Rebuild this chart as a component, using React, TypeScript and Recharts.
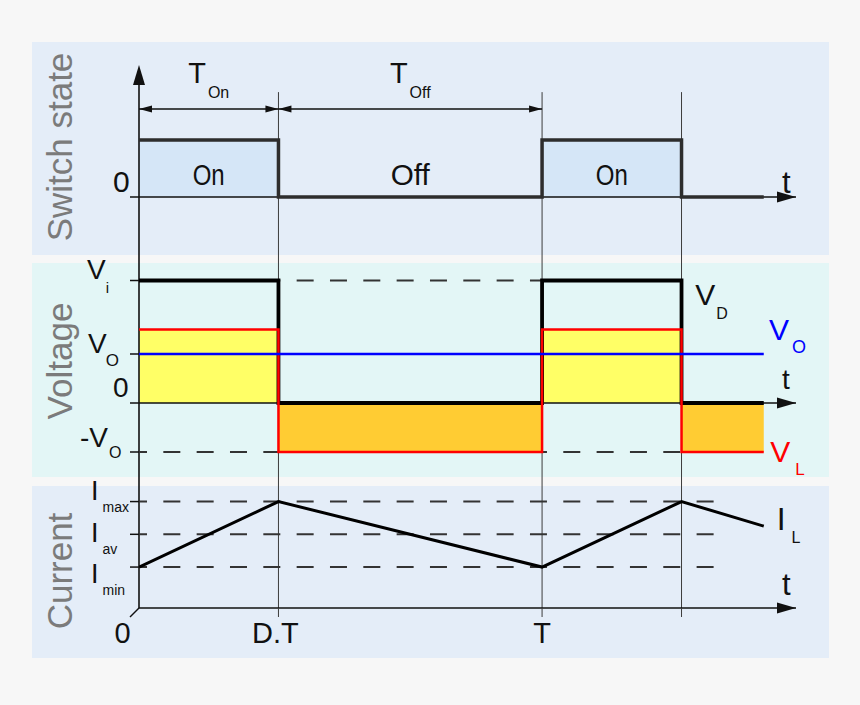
import React from 'react';
import { ComposedChart, Line, Area, XAxis, YAxis, ReferenceLine, ReferenceDot } from 'recharts';

// time, in units of the switching period T
const tEdges = [0, 0.346, 1, 1.346, 1.55];
const tEnd = 1.63; // tip of the t arrows
const phaseNames = ['On', 'Off', 'On'];
const switchState = [1, 0, 1, 0, 0];

// voltages (Vi = 5, Vo = 2)
const vDiode = [5, 0, 5, 0, 0];
const vInductor = [3, -2, 3, -2, -2];
const vOut = [2, 2, 2, 2, 2];

// inductor current
const iInductor = [1.25, 3.25, 1.25, 3.25, 2.5];

const swTicks = [0];
const voltTicks = [5, 2, 0, -2];
const voltTickText = ['V', 'V', '0', '-V'];
const voltTickSub = ['i', 'O', '', 'O'];
const curTicks = [3.25, 2.25, 1.25];
const curTickSub = ['max', 'av', 'min'];
const timeTicks = [0, 0.346, 1, 1.346];
const timeTickText = ['0', 'D.T', 'T', ''];

const table = tEdges.map((t, i) => ({
  t,
  sw: switchState[i],
  vD: vDiode[i],
  vL: vInductor[i],
  vLpos: Math.max(vInductor[i], 0),
  vLneg: Math.min(vInductor[i], 0),
  vO: vOut[i],
  iL: iInductor[i],
}));

// layout
const W = 860;
const PLOT_L = 139;
const PLOT_R = 796;
const YW = 60;
const margin = { top: 0, right: W - PLOT_R, bottom: 0, left: PLOT_L - YW };
const PX_PER_T = (PLOT_R - PLOT_L) / tEnd;

const FONT = "'Liberation Sans', Arial, Helvetica, sans-serif";
const INK = '#111';
const GUIDE = '#3c3c3c';
const DASH = '#333';
const BG = '#f7f7f7';
const PANEL_BLUE = '#e4edf8';
const PANEL_CYAN = '#e3f6f6';
const ON_FILL = '#d5e6f7';

// band = page top / bottom of a chart's plot, zero = page y of value 0, unit = px per value
const band = (top: number, bottom: number, zero: number, unit: number): [number, number] => [
  -(bottom - zero) / unit,
  (zero - top) / unit,
];
const S = { top: 42, bottom: 250 };
const V = { top: 250, bottom: 479 };
const I = { top: 479, bottom: 658, plotBottom: 608 };
const domS = band(S.top, S.bottom, 197, 57);
const domV = band(V.top, V.bottom, 403, 24.5);
const domI = band(I.top, I.plotBottom, 608, 32.75);

// dash pattern starts at the tick, 9px left of the plot
const dashOffset = (t: number) => (t * PX_PER_T + 9) % 33.33;
const dashProps = (t: number) => ({
  stroke: DASH,
  strokeWidth: 2,
  strokeDasharray: '17 16.33',
  strokeDashoffset: dashOffset(t),
  ifOverflow: 'visible' as const,
});
const curDashEnd = 1.427;

const tickLineStyle = { stroke: INK, strokeWidth: 1.5 };

type Lbl = {
  main: string;
  sub?: string;
  color?: string;
  size: number;
  subSize?: number;
  subDx?: number;
  subDy?: number;
  anchor?: 'start' | 'middle' | 'end';
  squeeze?: number;
};
const textShape = (s: Lbl) => (p: any) => (
  <text
    x={p.cx}
    y={p.cy}
    fill={s.color ?? INK}
    fontSize={s.size}
    fontFamily={FONT}
    textAnchor={s.anchor ?? 'start'}
    {...(s.squeeze ? { textLength: s.squeeze, lengthAdjust: 'spacingAndGlyphs' } : {})}
  >
    {s.main}
    {s.sub ? (
      <tspan dx={s.subDx ?? 1} dy={s.subDy ?? 13} fontSize={s.subSize ?? 16}>
        {s.sub}
      </tspan>
    ) : null}
  </text>
);

const arrowRight = (p: any) => <path d={`M${p.cx},${p.cy} l-19,-5.5 v11 z`} fill={INK} />;
const arrowUp = (p: any) => <path d={`M${p.cx},${p.cy} l-6,20 h12 z`} fill={INK} />;
const dimLeft = (p: any) => <path d={`M${p.cx},${p.cy} l13,-3.5 v7 z`} fill={INK} />;
const dimRight = (p: any) => <path d={`M${p.cx},${p.cy} l-13,-3.5 v7 z`} fill={INK} />;

const SwTick = (p: any) => (
  <text x={p.x - 17} y={p.y - 5} fontSize={30} fontFamily={FONT} fill={INK}>
    0
  </text>
);

const voltTickDx = [-43, -42, -17, -50];
const voltTickDy = [-2, -1, -6, -5];
const voltSubDx = [0, -1, 0, 1];
const voltSubDy = [14, 13, 0, 11];
const voltSubSize = [15, 17, 15, 16];
const VoltTick = (p: any) => {
  const i = voltTicks.indexOf(p.payload.value);
  if (i < 0) return null;
  return (
    <text x={p.x + voltTickDx[i]} y={p.y + voltTickDy[i]} fontSize={28} fontFamily={FONT} fill={INK}>
      {voltTickText[i]}
      {voltTickSub[i] ? (
        <tspan dx={voltSubDx[i]} dy={voltSubDy[i]} fontSize={voltSubSize[i]}>
          {voltTickSub[i]}
        </tspan>
      ) : null}
    </text>
  );
};

const curTickDy = [-1.5, 7.5, 16];
const CurTick = (p: any) => {
  const i = curTicks.indexOf(p.payload.value);
  if (i < 0) return null;
  return (
    <text x={p.x - 39} y={p.y + curTickDy[i]} fontSize={27} fontFamily={FONT} fill={INK}>
      I
      <tspan dx={4} dy={12} fontSize={14}>
        {curTickSub[i]}
      </tspan>
    </text>
  );
};

const TimeTick = (p: any) => {
  const i = timeTicks.indexOf(p.payload.value);
  if (i < 0) return null;
  const { x, y } = p;
  const labelX = i === 0 ? x - 16.5 : i === 1 ? x - 3 : x;
  return (
    <g>
      {i === 0 ? (
        <line x1={x} y1={y} x2={x - 9} y2={y + 9} stroke={INK} strokeWidth={1.5} />
      ) : (
        <line x1={x} y1={y} x2={x} y2={y + 9} stroke={GUIDE} strokeWidth={1} />
      )}
      <text x={labelX} y={y + 35} textAnchor="middle" fontSize={29} fontFamily={FONT} fill={INK}>
        {timeTickText[i]}
      </text>
    </g>
  );
};

const abs = (left: number, top: number, width: number, height: number, bg: string): React.CSSProperties => ({
  position: 'absolute',
  left,
  top,
  width,
  height,
  background: bg,
});

const titleStyle = (cx: number, cy: number): React.CSSProperties => ({
  position: 'absolute',
  left: cx,
  top: cy,
  transform: 'translate(-50%, -50%) rotate(-90deg)',
  fontFamily: FONT,
  fontSize: 35,
  lineHeight: 1,
  color: '#7b7b7b',
  whiteSpace: 'nowrap',
});

const guides = tEdges.slice(1, 4);
const mid = (a: number, b: number) => (a + b) / 2;
const phaseWidth: Record<string, number> = { On: 32, Off: 39 };

export default function App() {
  return (
    <div style={{ position: 'absolute', left: 0, top: 0, width: 860, height: 705, background: BG, overflow: 'hidden' }}>
      <style>{'.recharts-wrapper, .recharts-surface { overflow: visible !important; }'}</style>
      <div style={abs(32, 42, 797, 213, PANEL_BLUE)} />
      <div style={abs(32, 263, 797, 214, PANEL_CYAN)} />
      <div style={abs(32, 486, 797, 172, PANEL_BLUE)} />
      <div style={titleStyle(58.5, 147)}>Switch state</div>
      <div style={titleStyle(58.5, 361)}>Voltage</div>
      <div style={titleStyle(58.5, 571)}>Current</div>

      {/* switch state */}
      <div style={{ position: 'absolute', left: 0, top: S.top }}>
        <ComposedChart width={W} height={S.bottom - S.top} data={table} margin={margin}>
          <XAxis type="number" dataKey="t" domain={[0, tEnd]} allowDataOverflow hide />
          <YAxis
            type="number"
            domain={domS}
            allowDataOverflow
            ticks={swTicks}
            interval={0}
            width={YW}
            axisLine={false}
            tickLine={tickLineStyle}
            tickSize={9}
            tickMargin={0}
            tick={SwTick}
          />
          <Area
            type="stepAfter"
            dataKey="sw"
            baseValue={0}
            fill={ON_FILL}
            fillOpacity={1}
            stroke="none"
            isAnimationActive={false}
          />
          {guides.map((g) => (
            <ReferenceLine
              key={'g' + g}
              segment={[{ x: g, y: 1.84 }, { x: g, y: domS[0] }]}
              stroke={GUIDE}
              strokeWidth={1}
              ifOverflow="visible"
            />
          ))}
          <ReferenceLine y={0} stroke={INK} strokeWidth={1.5} />
          <ReferenceLine
            segment={[{ x: 0, y: 2.1 }, { x: 0, y: domS[0] }]}
            stroke={INK}
            strokeWidth={1.6}
            ifOverflow="visible"
          />
          <ReferenceDot x={0} y={2.316} r={1} shape={arrowUp} ifOverflow="visible" />
          <ReferenceDot x={tEnd} y={0} r={1} shape={arrowRight} ifOverflow="visible" />
          {[0, 1].map((k) => (
            <ReferenceLine
              key={'dim' + k}
              segment={[{ x: tEdges[k], y: 1.544 }, { x: tEdges[k + 1], y: 1.544 }]}
              stroke={INK}
              strokeWidth={1.4}
              ifOverflow="visible"
            />
          ))}
          {[0, 1].map((k) => (
            <ReferenceDot key={'dl' + k} x={tEdges[k]} y={1.544} r={1} shape={dimLeft} ifOverflow="visible" />
          ))}
          {[0, 1].map((k) => (
            <ReferenceDot key={'dr' + k} x={tEdges[k + 1]} y={1.544} r={1} shape={dimRight} ifOverflow="visible" />
          ))}
          {[0, 1].map((k) => (
            <ReferenceDot
              key={'T' + k}
              x={mid(tEdges[k], tEdges[k + 1])}
              y={2.0}
              r={1}
              ifOverflow="visible"
              shape={textShape({
                main: 'T',
                sub: phaseNames[k],
                size: 29,
                subSize: 16,
                subDx: 2,
                subDy: 15,
                anchor: 'middle',
              })}
            />
          ))}
          {phaseNames.map((n, k) => (
            <ReferenceDot
              key={'ph' + k}
              x={mid(tEdges[k], tEdges[k + 1])}
              y={0.21}
              r={1}
              ifOverflow="visible"
              shape={textShape({ main: n, size: 30, anchor: 'middle', squeeze: phaseWidth[n] })}
            />
          ))}
          <ReferenceDot x={1.5955} y={0.07} r={1} ifOverflow="visible" shape={textShape({ main: 't', size: 31 })} />
          <Line
            type="stepAfter"
            dataKey="sw"
            stroke="#2d2d2d"
            strokeWidth={3.5}
            dot={false}
            activeDot={false}
            isAnimationActive={false}
          />
        </ComposedChart>
      </div>

      {/* voltage */}
      <div style={{ position: 'absolute', left: 0, top: V.top }}>
        <ComposedChart width={W} height={V.bottom - V.top} data={table} margin={margin}>
          <XAxis type="number" dataKey="t" domain={[0, tEnd]} allowDataOverflow hide />
          <YAxis
            type="number"
            domain={domV}
            allowDataOverflow
            ticks={voltTicks}
            interval={0}
            width={YW}
            axisLine={false}
            tickLine={tickLineStyle}
            tickSize={9}
            tickMargin={0}
            tick={VoltTick}
          />
          <Area
            type="stepAfter"
            dataKey="vLpos"
            baseValue={0}
            fill="#ffff66"
            fillOpacity={1}
            stroke="none"
            isAnimationActive={false}
          />
          <Area
            type="stepAfter"
            dataKey="vLneg"
            baseValue={0}
            fill="#ffcc33"
            fillOpacity={1}
            stroke="none"
            isAnimationActive={false}
          />
          {guides.map((g) => (
            <ReferenceLine key={'g' + g} x={g} stroke={GUIDE} strokeWidth={1} />
          ))}
          <ReferenceLine x={0} stroke={INK} strokeWidth={1.6} />
          <ReferenceLine y={0} stroke={INK} strokeWidth={1.5} />
          <ReferenceDot x={tEnd} y={0} r={1} shape={arrowRight} ifOverflow="visible" />
          <ReferenceLine
            segment={[{ x: tEdges[1], y: voltTicks[0] }, { x: tEdges[2], y: voltTicks[0] }]}
            {...dashProps(tEdges[1])}
          />
          <ReferenceLine
            segment={[{ x: tEdges[0], y: voltTicks[3] }, { x: tEdges[1], y: voltTicks[3] }]}
            {...dashProps(tEdges[0])}
          />
          <ReferenceLine
            segment={[{ x: tEdges[2], y: voltTicks[3] }, { x: tEdges[3], y: voltTicks[3] }]}
            {...dashProps(tEdges[2])}
          />
          <Line
            type="stepAfter"
            dataKey="vD"
            stroke="#000"
            strokeWidth={3.8}
            dot={false}
            activeDot={false}
            isAnimationActive={false}
          />
          <Line
            type="stepAfter"
            dataKey="vL"
            stroke="#ff0000"
            strokeWidth={2.5}
            dot={false}
            activeDot={false}
            isAnimationActive={false}
          />
          <Line
            type="linear"
            dataKey="vO"
            stroke="#0000ff"
            strokeWidth={2.5}
            dot={false}
            activeDot={false}
            isAnimationActive={false}
          />
          <ReferenceDot
            x={1.38}
            y={4.0}
            r={1}
            ifOverflow="visible"
            shape={textShape({ main: 'V', sub: 'D', size: 30, subSize: 16, subDx: 1, subDy: 14 })}
          />
          <ReferenceDot
            x={1.563}
            y={2.57}
            r={1}
            ifOverflow="visible"
            shape={textShape({ main: 'V', sub: 'O', color: '#0000ff', size: 30, subSize: 18, subDx: 3, subDy: 13 })}
          />
          <ReferenceDot x={1.5955} y={0.57} r={1} ifOverflow="visible" shape={textShape({ main: 't', size: 28 })} />
          <ReferenceDot
            x={1.566}
            y={-2.41}
            r={1}
            ifOverflow="visible"
            shape={textShape({ main: 'V', sub: 'L', color: '#ff0000', size: 30, subSize: 17, subDx: 5, subDy: 13 })}
          />
        </ComposedChart>
      </div>

      {/* current */}
      <div style={{ position: 'absolute', left: 0, top: I.top }}>
        <ComposedChart width={W} height={I.bottom - I.top} data={table} margin={margin}>
          <XAxis
            type="number"
            dataKey="t"
            domain={[0, tEnd]}
            allowDataOverflow
            ticks={timeTicks}
            interval={0}
            height={I.bottom - I.plotBottom}
            axisLine={{ stroke: INK, strokeWidth: 1.5 }}
            tickLine={false}
            tickSize={0}
            tickMargin={0}
            tick={TimeTick}
          />
          <YAxis
            type="number"
            domain={domI}
            allowDataOverflow
            ticks={curTicks}
            interval={0}
            width={YW}
            axisLine={false}
            tickLine={tickLineStyle}
            tickSize={9}
            tickMargin={0}
            tick={CurTick}
          />
          {guides.map((g) => (
            <ReferenceLine key={'g' + g} x={g} stroke={GUIDE} strokeWidth={1} />
          ))}
          <ReferenceLine x={0} stroke={INK} strokeWidth={1.6} />
          {curTicks.map((c) => (
            <ReferenceLine key={'c' + c} segment={[{ x: 0, y: c }, { x: curDashEnd, y: c }]} {...dashProps(0)} />
          ))}
          <ReferenceDot x={tEnd} y={0} r={1} shape={arrowRight} ifOverflow="visible" />
          <Line
            type="linear"
            dataKey="iL"
            stroke="#000"
            strokeWidth={3}
            dot={false}
            activeDot={false}
            isAnimationActive={false}
          />
          <ReferenceDot x={1.5955} y={0.4} r={1} ifOverflow="visible" shape={textShape({ main: 't', size: 31 })} />
          <ReferenceDot
            x={1.582}
            y={2.38}
            r={1}
            ifOverflow="visible"
            shape={textShape({ main: 'I', sub: 'L', size: 32, subSize: 16, subDx: 6, subDy: 13 })}
          />
        </ComposedChart>
      </div>
    </div>
  );
}
